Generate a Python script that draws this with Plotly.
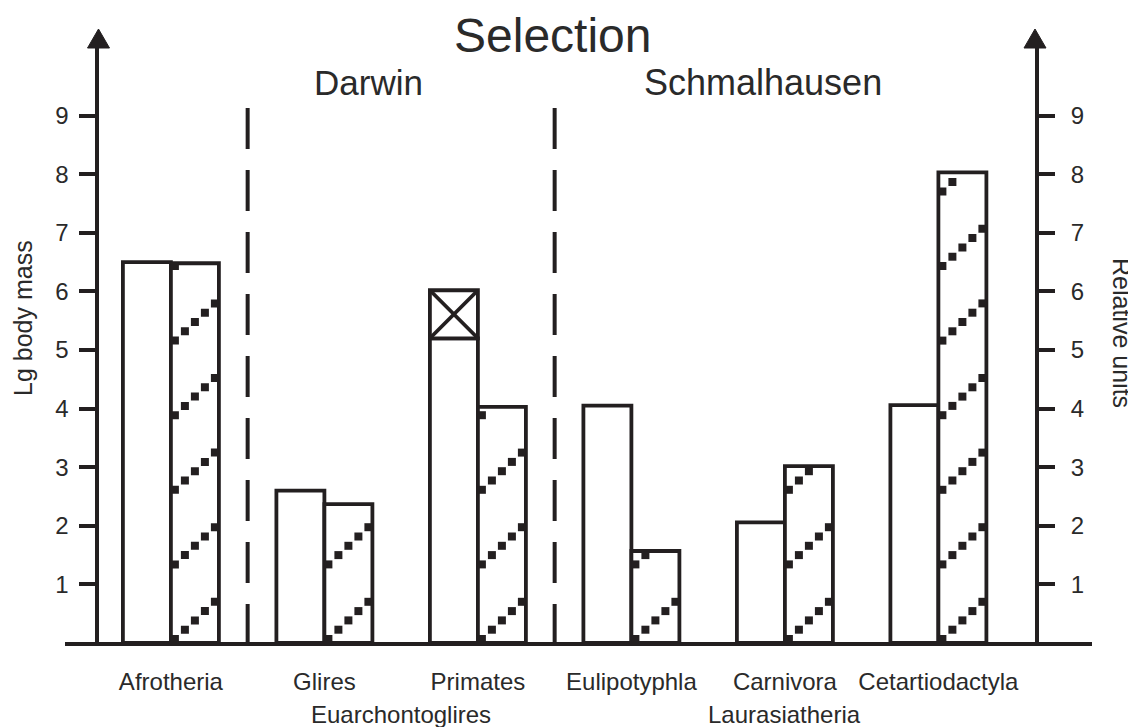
import plotly.graph_objects as go

# ---------------- data ----------------
categories = ["Afrotheria", "Glires", "Primates", "Eulipotyphla", "Carnivora", "Cetartiodactyla"]
lg_body_mass = [6.5, 2.6, 5.2, 4.05, 2.06, 4.06]      # white bars (left axis)
relative_units = [6.48, 2.37, 4.03, 1.57, 3.02, 8.03]  # patterned bars (right axis)
primates_box_top = 6.02                                # crossed box on top of Primates
groups = ["Euarchontoglires", "Laurasiatheria"]
group_members = [["Glires", "Primates"], ["Eulipotyphla", "Carnivora", "Cetartiodactyla"]]
tick_values = [1, 2, 3, 4, 5, 6, 7, 8, 9]
title = "Selection"
subtitles = ["Darwin", "Schmalhausen"]

# ---------------- layout geometry (pixels of the page) ----------------
PAGE_OFF = 8                      # default body margin of the html page
W, H = 1136 - PAGE_OFF, 727 - PAGE_OFF
X0_PX, X_STEP_PX = 170.9, 153.5   # category centre mapping
LEFT_AX_PX, RIGHT_AX_PX = 98.5, 1035
BASE_PX, TOP_PX = 643, 48
UNIT_PX = 58.6
INK = "#231f20"
TXT = "#2a2a2a"
FONT = "Liberation Sans, Arial, sans-serif"

def px_x(p):
    return (p - PAGE_OFF) / W

def px_y(p):
    return 1 - (p - PAGE_OFF) / H

x_range = [(LEFT_AX_PX - X0_PX) / X_STEP_PX, (RIGHT_AX_PX - X0_PX) / X_STEP_PX]
y_range = [0, (BASE_PX - TOP_PX) / UNIT_PX]

idx = list(range(len(categories)))
bar_w = 48 / X_STEP_PX

fig = go.Figure()

# white bars
fig.add_trace(go.Bar(
    x=idx, y=lg_body_mass, width=bar_w, offset=-bar_w,
    marker=dict(color="white", line=dict(color=INK, width=3.8)),
    name="Lg body mass", showlegend=False, yaxis="y",
))

# crossed box on top of Primates white bar
pi = categories.index("Primates")
fig.add_trace(go.Bar(
    x=[pi], y=[primates_box_top - lg_body_mass[pi]], base=[lg_body_mass[pi]],
    width=bar_w, offset=-bar_w,
    marker=dict(color="white", line=dict(color=INK, width=3.8)),
    showlegend=False, yaxis="y",
))
bl, br = pi - bar_w, pi
fig.add_trace(go.Scatter(
    x=[bl, br, None, bl, br],
    y=[lg_body_mass[pi], primates_box_top, None, primates_box_top, lg_body_mass[pi]],
    mode="lines", line=dict(color=INK, width=3.8), showlegend=False, hoverinfo="skip",
))

# patterned bars
fig.add_trace(go.Bar(
    x=idx, y=relative_units, width=bar_w, offset=0,
    marker=dict(color="white", line=dict(color=INK, width=3.8)),
    name="Relative units", showlegend=False, yaxis="y",
))

# staircase-of-squares fill pattern, derived from the patterned bars
period = 74.6 / UNIT_PX
step_y = 9.3 / UNIT_PX
first_y = 4 / UNIT_PX
inset = 4 / X_STEP_PX
sq_x, sq_y = [], []
for i, h in enumerate(relative_units):
    left, right = i + inset, i + bar_w - inset
    k = 0
    while first_y + k * period < h:
        for j in range(5):
            yy = first_y + k * period + j * step_y
            if yy <= h - 0.03:
                sq_x.append(left + j * (right - left) / 4)
                sq_y.append(yy)
        k += 1
fig.add_trace(go.Scatter(
    x=sq_x, y=sq_y, mode="markers",
    marker=dict(symbol="square", size=8, color=INK, line=dict(width=0)),
    showlegend=False, hoverinfo="skip",
))

shapes = []
# baseline
shapes.append(dict(type="line", xref="paper", yref="paper",
                   x0=px_x(65), x1=px_x(1092), y0=px_y(BASE_PX + 1), y1=px_y(BASE_PX + 1),
                   line=dict(color=INK, width=4)))
# arrow heads
for ax in (LEFT_AX_PX, RIGHT_AX_PX):
    shapes.append(dict(type="path", xref="paper", yref="paper",
                       path=f"M {px_x(ax-11)} {px_y(TOP_PX)} L {px_x(ax+11)} {px_y(TOP_PX)} L {px_x(ax)} {px_y(29)} Z",
                       fillcolor=INK, line=dict(color=INK, width=1)))
# dashed separators (drawn from the top down so the dash pattern starts at the top)
for sep in (0.5, 2.5):
    shapes.append(dict(type="line", xref="x", yref="y", x0=sep, x1=sep, y0=9.13, y1=0.0,
                       line=dict(color=INK, width=4, dash="41px,21px")))

def ann(text, x, y, size, xref="paper", angle=0):
    return dict(text=text, x=x, y=y, xref=xref, yref="paper", xanchor="center",
                yanchor="middle", textangle=angle, showarrow=False,
                font=dict(size=size, color=TXT, family=FONT))

annotations = [
    ann(title, px_x(552), px_y(36), 48),
    ann(subtitles[0], px_x(368), px_y(82), 35),
    ann(subtitles[1], px_x(763), px_y(82), 36),
    ann("Lg body mass", px_x(23), px_y(318), 25, angle=-90),
    ann("Relative units", px_x(1122), px_y(333), 25, angle=90),
]
for g, members in zip(groups, group_members):
    cx = sum(categories.index(m) for m in members) / len(members)
    annotations.append(ann(g, cx, px_y(714), 24, xref="x"))

axis_common = dict(range=y_range, domain=[px_y(BASE_PX), px_y(TOP_PX)],
                   showline=True, linewidth=4, linecolor=INK, ticks="outside",
                   ticklen=16, tickwidth=4, tickcolor=INK, tickvals=tick_values,
                   tickfont=dict(size=24, color=TXT, family=FONT),
                   showgrid=False, zeroline=False, automargin=False, fixedrange=True)

fig.update_layout(
    width=W, height=H, margin=dict(l=0, r=0, t=0, b=0),
    paper_bgcolor="white", plot_bgcolor="white",
    barmode="overlay",
    xaxis=dict(domain=[px_x(LEFT_AX_PX), px_x(RIGHT_AX_PX)], range=x_range,
               tickvals=idx, ticktext=categories, ticks="", showline=False,
               showgrid=False, zeroline=False, automargin=False,
               ticklabelstandoff=22,
               tickfont=dict(size=24, color=TXT, family=FONT)),
    yaxis=dict(side="left", ticklabelstandoff=5, **axis_common),
    yaxis2=dict(side="right", overlaying="y", anchor="x", ticklabelstandoff=11, **axis_common),
    shapes=shapes, annotations=annotations, showlegend=False,
)
# attach an invisible trace so the right axis is drawn
fig.add_trace(go.Scatter(x=[None], y=[None], yaxis="y2", showlegend=False, hoverinfo="skip"))

fig.write_html("out.html")
